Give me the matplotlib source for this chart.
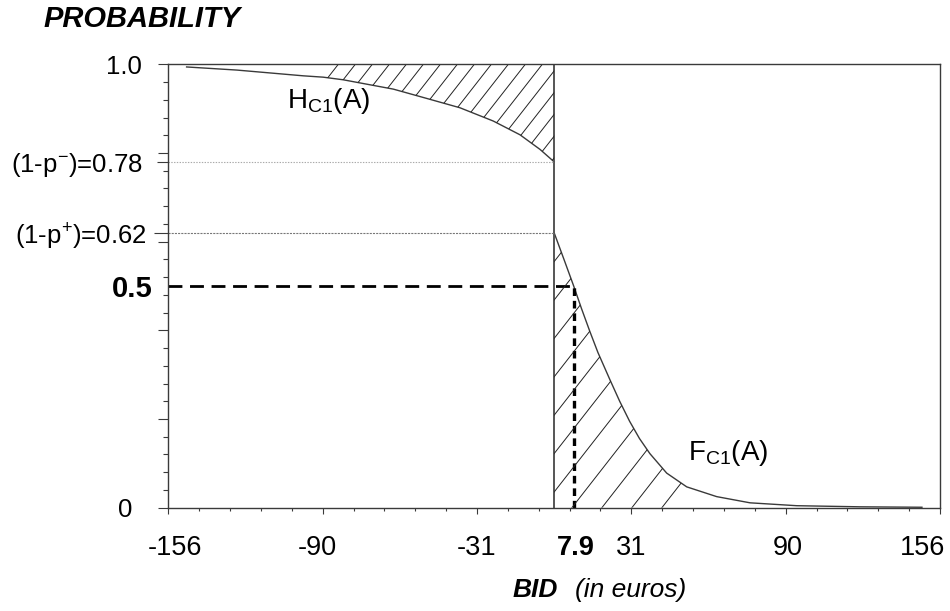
import numpy as np
import matplotlib
matplotlib.use('Agg')
import matplotlib.pyplot as plt
from matplotlib.lines import Line2D
from matplotlib.transforms import ScaledTranslation

plt.rcParams['font.family'] = ['Liberation Sans', 'DejaVu Sans']
plt.rcParams['mathtext.fontset'] = 'custom'
plt.rcParams['mathtext.rm'] = 'Liberation Sans'
plt.rcParams['mathtext.it'] = 'Liberation Sans:italic'
plt.rcParams['lines.scale_dashes'] = False

# ---------------- data ----------------
# H_C1(A): curve left of the zero bid
h_x = [-148.6, -128.3, -101.4, -93.4, -85.2, -78.5, -65.0, -51.5, -38.1, -24.6, -13.8, -5.7, 0.0]
h_y = [0.994, 0.987, 0.974, 0.971, 0.965, 0.958, 0.944, 0.923, 0.902, 0.872, 0.841, 0.808, 0.78]
# F_C1(A): curve right of the zero bid
f_x = [0.0, 4.3, 7.9, 11.0, 14.4, 17.7, 22.6, 26.5, 30.5, 34.5, 38.7, 45.5, 53.6,
       65.7, 79.2, 98.1, 123.6, 148.7]
f_y = [0.62, 0.555, 0.50, 0.450, 0.398, 0.350, 0.288, 0.240, 0.195, 0.156, 0.122,
       0.078, 0.047, 0.025, 0.011, 0.0045, 0.002, 0.001]

x_tick_pos = [-156, -93.6, -31.2, 31.2, 93.6, 156]
x_tick_labels = ['-156', '-90', '-31', '31', '90', '156']
bid_star = 7.9
bid_star_label = '7.9'
p_minus_level = 0.78
p_plus_level = 0.62
half_level = 0.5
h_hatch_start = -94
f_hatch_end = 55

# ---------------- figure ----------------
W_PX, H_PX = 950, 611
fig = plt.figure(figsize=(W_PX / 100, H_PX / 100), dpi=100)
L, R, T, B = 168.3, 940.0, 64.3, 507.7
ax = fig.add_axes([L / W_PX, (H_PX - B) / H_PX, (R - L) / W_PX, (B - T) / H_PX])
ax.set_xlim(-156, 156)
ax.set_ylim(0, 1)

axis_col = '#3a3a3a'
for s in ax.spines.values():
    s.set_color(axis_col)
    s.set_linewidth(1.0)

h_x = np.array(h_x); h_y = np.array(h_y)
f_x = np.array(f_x); f_y = np.array(f_y)

curve_col = '#3a3a3a'
ax.plot(h_x, h_y, color=curve_col, lw=1.0)
ax.plot(f_x, f_y, color=curve_col, lw=1.0)

# vertical line at zero bid
ax.axvline(0, color='#555555', lw=1.4)

# reference levels
ax.plot([-156, 0], [p_minus_level] * 2, color='#aaaaaa', lw=0.8, dashes=(1, 1))
ax.plot([-156, 0], [p_plus_level] * 2, color='#777777', lw=0.8, dashes=(1.5, 0.8))
ax.plot([-156, bid_star], [half_level] * 2, color='black', lw=2.0, dashes=(10, 5.5))
ax.plot([bid_star, bid_star], [0, half_level], color='black', lw=2.4, dashes=(5.5, 3.5))

# ---------------- hatched regions ----------------
ax_w_px = R - L
ax_h_px = B - T


def hatch_region(xs, y_lo, y_hi, spacing_px, angle_deg=52, lw=0.7):
    poly = ax.fill_between(xs, y_lo, y_hi, facecolor='none', edgecolor='none', lw=0)
    clip = poly.get_paths()[0]
    run = ax_h_px / np.tan(np.radians(angle_deg))
    for c in np.arange(-run, ax_w_px + spacing_px, spacing_px):
        ln = Line2D([c / ax_w_px, (c + run) / ax_w_px], [0, 1], transform=ax.transAxes,
                    color='#222222', lw=lw)
        ax.add_line(ln)
        ln.set_clip_path(clip, ax.transData)


mh = h_x >= h_hatch_start
hatch_region(h_x[mh], h_y[mh], np.ones(mh.sum()), spacing_px=17)
mf = f_x <= f_hatch_end
hatch_region(f_x[mf], np.zeros(mf.sum()), f_y[mf], spacing_px=30)

ax.set_xlim(-156, 156)
ax.set_ylim(0, 1)

# ---------------- x ticks ----------------
ax.set_xticks(x_tick_pos + [bid_star])
ax.set_xticklabels(x_tick_labels + [bid_star_label])
ax.set_xticks(np.linspace(-156, 156, 26), minor=True)
ax.tick_params(axis='x', which='major', direction='out', length=4.5, width=0.8,
               color=axis_col, labelsize=19.5, pad=15)
ax.tick_params(axis='x', which='minor', direction='out', length=2.2, width=0.8,
               color=axis_col)
xt = ax.xaxis.get_major_ticks()
xt[-1].tick1line.set_markersize(0)
xt[-1].label1.set_fontweight('bold')
x_shift_px = [7, -5, 0, 0, 2, -17, 2]
for t, dx in zip(xt, x_shift_px):
    t.label1.set_transform(t.label1.get_transform() +
                           ScaledTranslation(dx / 100, 0, fig.dpi_scale_trans))

# ---------------- y ticks ----------------
y_major = [0, 0.2, 0.4, half_level, 0.6, p_plus_level, p_minus_level, 0.8, 1.0]
y_labels = ['0', '', '', '0.5', '', r'(1-p$^{\mathregular{+}}$)=0.62',
            r'(1-p$^{\mathregular{-}}$)=0.78', '', '1.0']
ax.set_yticks(y_major)
ax.set_yticklabels(y_labels)
ax.set_yticks(np.linspace(0, 1, 26), minor=True)
ax.tick_params(axis='y', which='major', direction='out', length=7.2, width=0.8,
               color=axis_col, labelsize=18.5, pad=11.5)
ax.tick_params(axis='y', which='minor', direction='out', length=3.6, width=0.8,
               color=axis_col)
yt = ax.yaxis.get_major_ticks()
# (size in pt, pad in pt)
special = {0: (7.2, 18.5), 3: (0.0, 11.5), 5: (10.0, 5.5), 6: (8.0, 10.0), 8: (7.2, 11.5)}
for i, (sz, pd) in special.items():
    yt[i]._apply_params(size=sz, pad=pd)
yt[3].label1.set_fontweight('bold')
yt[3].label1.set_fontsize(21)

# ---------------- texts ----------------
ax.text(-108, 0.902, r'H$_{\mathregular{C1}}$(A)', fontsize=20, va='baseline', ha='left')
ax.text(54.2, 0.108, r'F$_{\mathregular{C1}}$(A)', fontsize=20, va='baseline', ha='left')

fig.text(43 / W_PX, 1 - 19 / H_PX, 'PROBABILITY', fontsize=21, fontweight='bold',
         fontstyle='italic', ha='left', va='center')
fig.text(513 / W_PX, 1 - 590 / H_PX, 'BID', fontsize=19, fontweight='bold',
         fontstyle='italic', ha='left', va='center')
fig.text(575 / W_PX, 1 - 590 / H_PX, '(in euros)', fontsize=19,
         fontstyle='italic', ha='left', va='center')

fig.savefig('out.png', dpi=100)
